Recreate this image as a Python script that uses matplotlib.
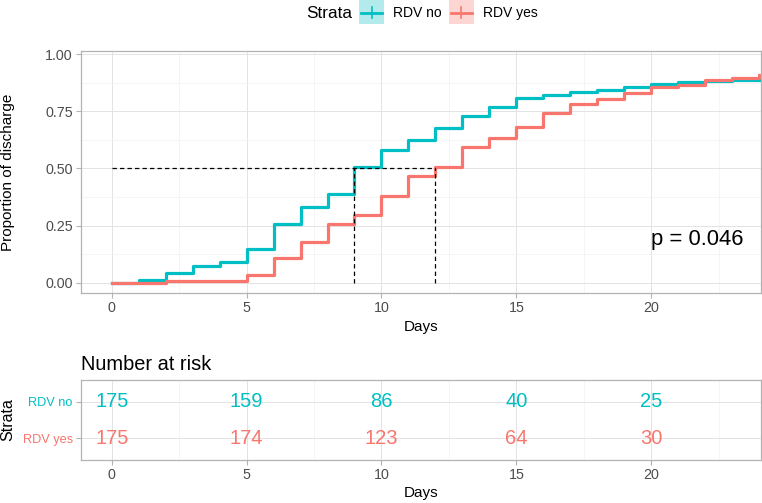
import numpy as np
import matplotlib
matplotlib.use("Agg")
import matplotlib.pyplot as plt
from matplotlib.patches import Rectangle
from matplotlib.lines import Line2D
from matplotlib.ticker import MultipleLocator

plt.rcParams["font.family"] = ["Liberation Sans", "DejaVu Sans"]

# ==========================
# DATA
# ==========================
days = list(range(0, 25))
rdv_no = [0, 0.013, 0.040, 0.073, 0.092, 0.147, 0.257, 0.331, 0.387, 0.507,
          0.583, 0.623, 0.679, 0.730, 0.771, 0.807, 0.824, 0.837, 0.845,
          0.857, 0.869, 0.879, 0.882, 0.887, 0.887]
rdv_yes = [0, 0, 0.005, 0.005, 0.005, 0.034, 0.107, 0.176, 0.255, 0.298,
           0.381, 0.469, 0.507, 0.594, 0.635, 0.682, 0.745, 0.784, 0.806,
           0.830, 0.858, 0.867, 0.889, 0.898, 0.910]
medians = [9, 12]
p_text = "p = 0.046"

risk_times = [0, 5, 10, 15, 20]
risk_no = [175, 159, 86, 40, 25]
risk_yes = [175, 174, 123, 64, 30]
strata = ["RDV no", "RDV yes"]

TEAL = "#00BFC4"
RED = "#F8766D"
GRID = "#E3E3E3"
GRID_MINOR = "#F0F0F0"
BORDER = "#B3B3B3"
TICKTXT = "#4D4D4D"

W, H = 762, 503
fig = plt.figure(figsize=(W / 100, H / 100), dpi=100)


def fbox(x0, y0, x1, y1):
    # pixel box (top-left origin) -> figure fraction rect
    return [x0 / W, 1 - y1 / H, (x1 - x0) / W, (y1 - y0) / H]


def style(ax):
    for s in ax.spines.values():
        s.set_color(BORDER)
        s.set_linewidth(0.9)
    ax.tick_params(axis="both", colors=BORDER, labelcolor=TICKTXT,
                   labelsize=10.3, length=3.3, width=0.8, pad=2.5)
    ax.grid(which="major", color=GRID, linewidth=0.7)
    ax.grid(which="minor", color=GRID_MINOR, linewidth=0.45)
    ax.set_axisbelow(True)


# y titles of both panels share the same left edge
YLAB_X = (15 - 80.7) / 680.3

# ==========================
# MAIN PLOT
# ==========================
ax = fig.add_axes(fbox(80.7, 51, 761, 293.3))
style(ax)
ax.step(days, rdv_no, where="post", color=TEAL, linewidth=2.3)
ax.step(days, rdv_yes, where="post", color=RED, linewidth=2.3)

ax.plot([0, max(medians)], [0.5, 0.5], color="black", linestyle=(0, (3.5, 2.5)), linewidth=0.9)
for m in medians:
    ax.plot([m, m], [0, 0.5], color="black", linestyle=(0, (3.5, 2.5)), linewidth=0.9)

ax.text(20, 0.19, p_text, fontsize=15.8, ha="left", va="center", color="black")

ax.set_xlim(-1.15, 24.07)
ax.set_ylim(-0.047, 1.015)
ax.xaxis.set_major_locator(MultipleLocator(5))
ax.xaxis.set_minor_locator(MultipleLocator(2.5))
ax.yaxis.set_major_locator(MultipleLocator(0.25))
ax.yaxis.set_minor_locator(MultipleLocator(0.125))
ax.tick_params(which="minor", length=0)
ax.set_yticks([0, 0.25, 0.5, 0.75, 1.0])
ax.set_yticklabels(["0.00", "0.25", "0.50", "0.75", "1.00"])
ax.set_xlabel("Days", fontsize=11, labelpad=3)
ax.set_ylabel("Proportion of discharge", fontsize=11)
ax.yaxis.set_label_coords(YLAB_X, 0.5)

# legend (drawn in figure pixels)
fig.text(306 / W, 1 - 13 / H, "Strata", fontsize=12.3, ha="left", va="center")
for (x0, lab, col, fill) in [(359, "RDV no", TEAL, "#B3EBED"),
                             (449, "RDV yes", RED, "#FDD6D3")]:
    fig.add_artist(Rectangle((x0 / W, 1 - 24 / H), 25 / W, 24 / H,
                             transform=fig.transFigure, facecolor=fill,
                             edgecolor="none"))
    fig.add_artist(Line2D([(x0 + 2) / W, (x0 + 23) / W], [1 - 12.5 / H] * 2,
                          transform=fig.transFigure, color=col, linewidth=2))
    fig.add_artist(Line2D([(x0 + 12.5) / W] * 2, [1 - 7 / H, 1 - 18 / H],
                          transform=fig.transFigure, color=col, linewidth=1.2))
    fig.text((x0 + 34) / W, 1 - 13 / H, lab, fontsize=10, ha="left", va="center")

# ==========================
# RISK TABLE
# ==========================
at = fig.add_axes(fbox(80.7, 380, 761, 460))
style(at)
rows = {2: (risk_no, TEAL), 1: (risk_yes, RED)}
for yrow, (vals, col) in rows.items():
    for t, n in zip(risk_times, vals):
        at.text(t, yrow, str(n), fontsize=14.5, color=col, ha="center", va="center")

at.set_xlim(-1.15, 24.07)
at.set_ylim(0.4, 2.6)
at.xaxis.set_major_locator(MultipleLocator(5))
at.xaxis.set_minor_locator(MultipleLocator(2.5))
at.tick_params(which="minor", length=0)
at.set_yticks([2, 1])
at.set_yticklabels(strata, fontsize=9.2)
for lab, col in zip(at.get_yticklabels(), [TEAL, RED]):
    lab.set_color(col)
at.set_xlabel("Days", fontsize=11, labelpad=3)
at.set_ylabel("Strata", fontsize=11.5)
at.yaxis.set_label_coords(YLAB_X, 0.5)
at.set_title("Number at risk", fontsize=14.4, loc="left", pad=7)

fig.savefig("out.png", dpi=100)
